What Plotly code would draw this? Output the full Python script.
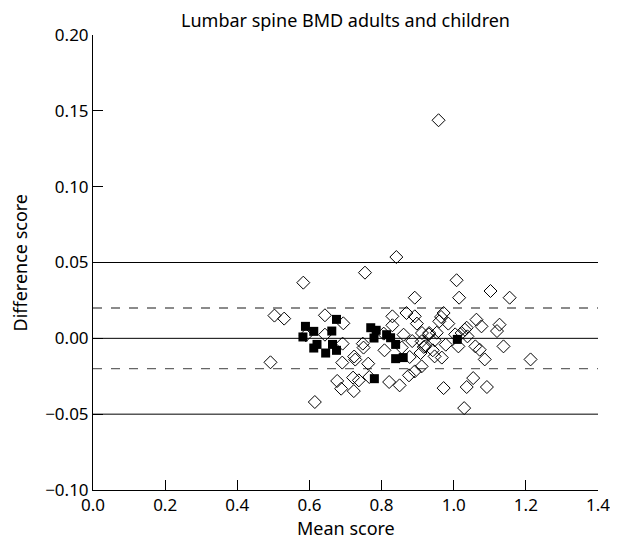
import plotly.graph_objects as go

# Open diamonds (adults)
adult_x = [0.492, 0.503, 0.530, 0.583, 0.615, 0.643, 0.643, 0.590, 0.694, 0.692, 0.691, 0.754, 0.841,
           0.748, 0.750, 0.724, 0.727, 0.763, 0.677, 0.688, 0.721, 0.723, 0.737, 0.766, 0.808,
           0.830, 0.830, 0.806, 0.869, 0.892, 0.898, 0.861, 0.856, 0.878, 0.885, 0.911, 0.917,
           0.908, 0.911, 0.892, 0.876, 0.821, 0.850, 0.912, 0.931, 0.892,
           1.008, 1.102, 1.155, 1.015, 0.972, 0.965, 0.960, 0.985, 1.063, 1.077, 1.127, 1.120,
           1.036, 1.031, 1.022, 1.038, 1.004, 1.013, 0.932, 0.953, 0.947, 0.921, 0.942, 0.947,
           0.967, 0.978, 1.060, 1.072, 1.086, 1.138, 1.213, 1.054, 1.036, 1.092, 0.972, 1.029,
           0.958]
adult_y = [-0.0158, 0.0150, 0.0130, 0.0367, -0.0420, 0.0152, 0.0024, 0.0020, 0.0099, -0.0035, -0.0160, 0.0433, 0.0536,
           -0.0035, -0.0061, -0.0120, -0.0140, -0.0167, -0.0281, -0.0332, -0.0259, -0.0348, -0.0277, -0.0255, -0.0079,
           0.0145, 0.0086, 0.0031, 0.0167, 0.0145, 0.0097, 0.0024, -0.0061, -0.0123, -0.0018, -0.0020, -0.0057,
           -0.0097, -0.0185, -0.0218, -0.0244, -0.0288, -0.0310, 0.0035, 0.0026, 0.0268,
           0.0383, 0.0312, 0.0268, 0.0268, 0.0167, 0.0141, 0.0112, 0.0097, 0.0123, 0.0079, 0.0090, 0.0048,
           0.0070, 0.0057, 0.0035, 0.0013, 0.0026, -0.0053, 0.0035, 0.0037, -0.0013, -0.0053, -0.0079, -0.0119,
           -0.0127, -0.0042, -0.0053, -0.0075, -0.0139, -0.0053, -0.0139, -0.0262, -0.0321, -0.0321, -0.0328, -0.0460,
           0.1438]

# Filled squares (children)
child_x = [0.675, 0.589, 0.612, 0.662, 0.582, 0.621, 0.612, 0.664, 0.675, 0.645, 0.770, 0.785,
           0.779, 0.780, 0.814, 0.825, 0.839, 0.839, 0.860, 1.010]
child_y = [0.0125, 0.0079, 0.0046, 0.0048, 0.0009, -0.0040, -0.0064, -0.0040, -0.0079, -0.0097, 0.0070, 0.0053,
           0.0002, -0.0266, 0.0024, 0.0004, -0.0040, -0.0134, -0.0127, -0.0007]

solid_levels = [0.05, 0.0, -0.05]
dashed_levels = [0.02, -0.02]
line_x = [0.0, 1.4]

x_ticks = [0.0, 0.2, 0.4, 0.6, 0.8, 1.0, 1.2, 1.4]
x_tick_text = ["0.0", "0.2", "0.4", "0.6", "0.8", "1.0", "1.2", "1.4"]
y_ticks = [-0.10, -0.05, 0.00, 0.05, 0.10, 0.15, 0.20]
y_tick_text = ["\u22120.10", "\u22120.05", "0.00", "0.05", "0.10", "0.15", "0.20"]

fig = go.Figure()
for lv in solid_levels:
    fig.add_trace(go.Scatter(x=line_x, y=[lv, lv], mode="lines",
                             line=dict(color="black", width=1), showlegend=False, hoverinfo="skip"))
for lv in dashed_levels:
    fig.add_trace(go.Scatter(x=line_x, y=[lv, lv], mode="lines",
                             line=dict(color="#666666", width=1.3, dash="dash"), showlegend=False, hoverinfo="skip"))

fig.add_trace(go.Scatter(x=adult_x, y=adult_y, mode="markers", showlegend=False,
                         marker=dict(symbol="diamond-open", size=10, color="black",
                                     line=dict(width=1, color="black"))))
fig.add_trace(go.Scatter(x=child_x, y=child_y, mode="markers", showlegend=False,
                         marker=dict(symbol="square", size=9, color="black",
                                     line=dict(width=0, color="black"))))

font_family = "Noto Sans"
fig.update_layout(
    width=602, height=536,
    paper_bgcolor="white", plot_bgcolor="white",
    margin=dict(l=85, r=12, t=27, b=54, autoexpand=False),
    font=dict(family=font_family, size=17, color="black"),
    title=dict(text="Lumbar spine BMD adults and children", x=0.5, xref="paper", xanchor="center",
               y=1.0, yref="paper", yanchor="bottom", pad=dict(b=8),
               font=dict(size=18, family=font_family, color="black")),
    xaxis=dict(range=[0, 1.4], tickvals=x_ticks, ticktext=x_tick_text, showgrid=False, zeroline=False,
               showline=True, linecolor="black", linewidth=1, ticks="inside", ticklen=10,
               tickcolor="black", automargin=False, ticklabeloverflow="allow", tickfont=dict(size=17)),
    yaxis=dict(range=[-0.10, 0.20], tickvals=y_ticks, ticktext=y_tick_text, showgrid=False, zeroline=False,
               showline=True, linecolor="black", linewidth=1, ticks="inside", ticklen=10,
               tickcolor="black", automargin=False, tickfont=dict(size=17)),
    annotations=[
        dict(text="Mean score", xref="paper", yref="paper", x=0.5, y=0, xanchor="center",
             yanchor="middle", yshift=-38, showarrow=False, font=dict(size=18)),
        dict(text="Difference score", xref="paper", yref="paper", x=0, y=0.5, xanchor="center",
             yanchor="middle", xshift=-74, textangle=-90, showarrow=False, font=dict(size=18)),
    ],
)

fig.write_html("out.html")
